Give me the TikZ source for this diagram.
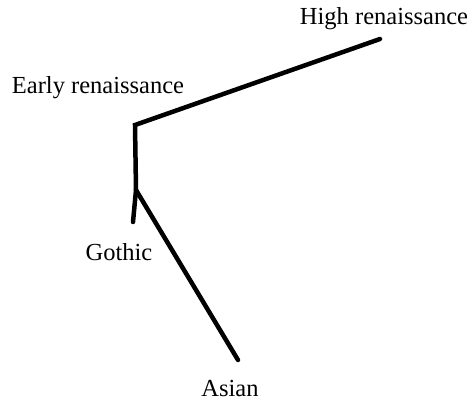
\documentclass[tikz,border=0pt]{standalone}
\usepackage{fontspec}
\setmainfont{Liberation Serif}
\usetikzlibrary{positioning}

\begin{document}
\begin{tikzpicture}[x=1pt,y=-1pt,branch/.style={line width=4.5pt,line cap=round,line join=miter},
    era/.style={font=\fontsize{24.5}{28}\selectfont,inner sep=0pt}]
      \useasboundingbox (0,0) rectangle (470,404);
      \coordinate (high) at (380,39);
      \coordinate (early) at (135,125);
      \coordinate (fork) at (136,190);
      \coordinate (gothic) at (133,222);
      \coordinate (asian) at (238,360);

      \node[era] (l_high) at (384,19) {High renaissance};
      \node[era] (l_early) at (98,88) {Early renaissance};
      \node[era] (l_gothic) at (119,252) {Gothic};
      \node[era] (l_asian) at (230,389) {Asian};

      \draw[branch] (high) -- (early) -- (fork) -- (gothic);
      \draw[branch] (fork) -- (asian);
    \end{tikzpicture}
\end{document}
